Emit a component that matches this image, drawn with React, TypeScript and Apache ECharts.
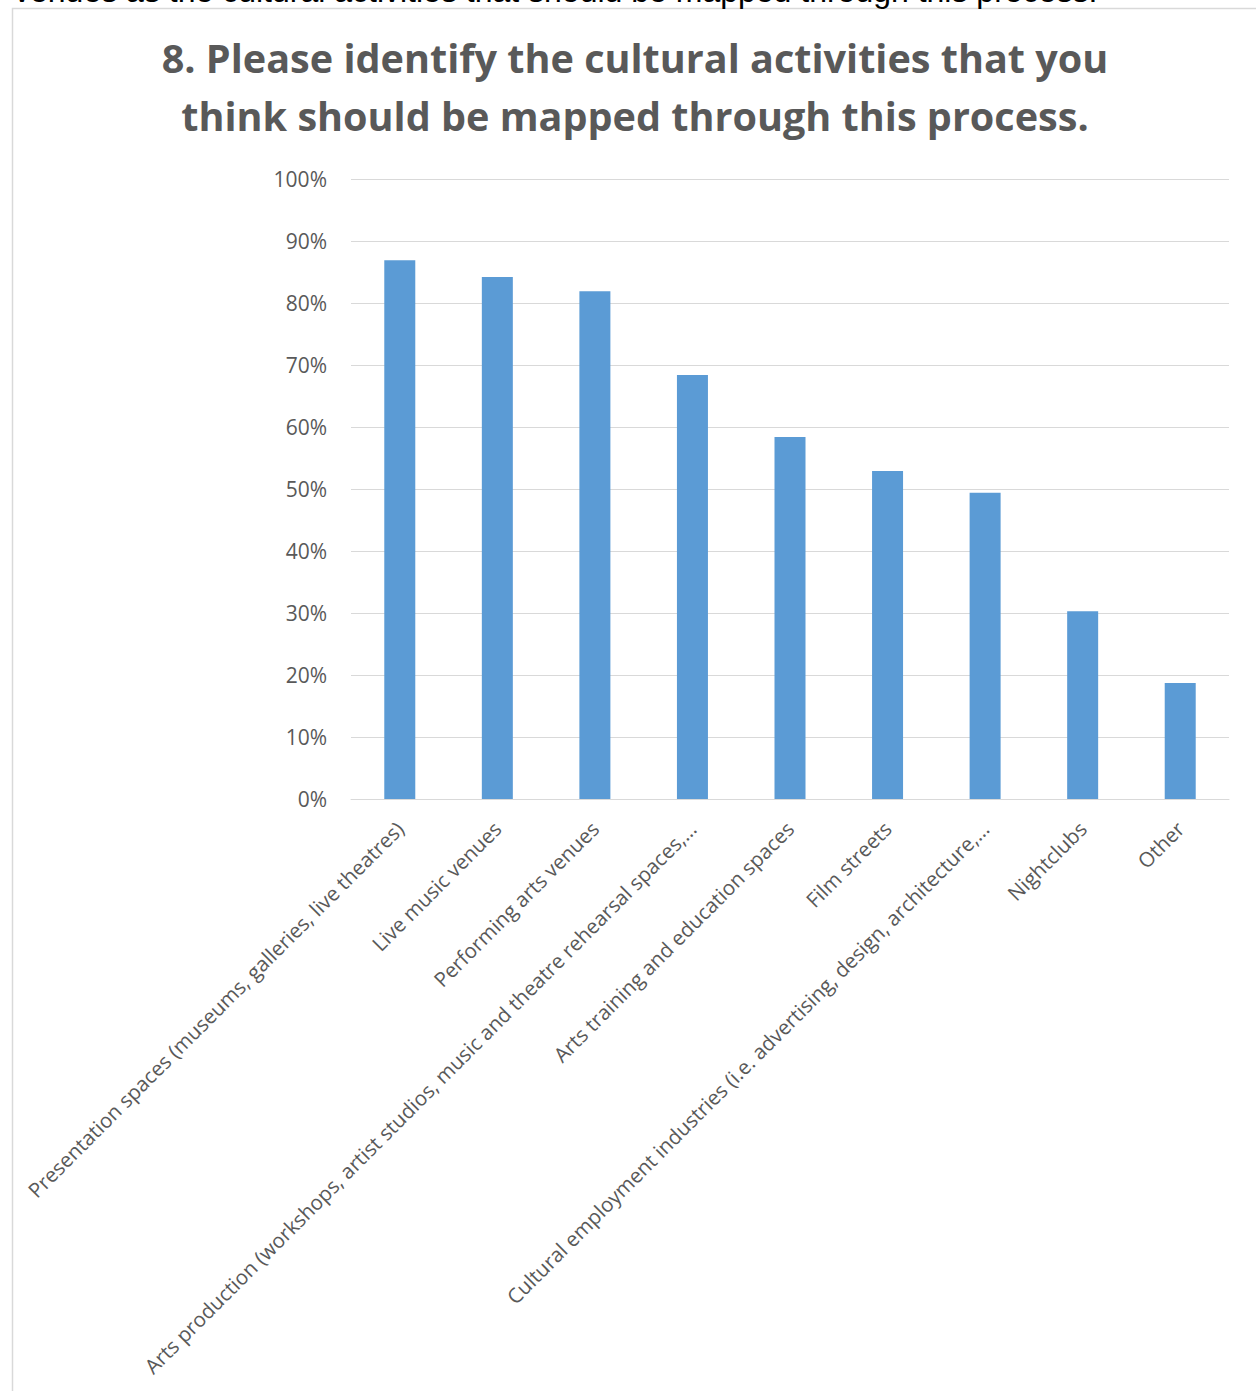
import React, { useEffect, useRef } from "react";
import * as echarts from "echarts";

const categories = [
  "Presentation spaces (museums, galleries, live theatres)",
  "Live music venues",
  "Performing arts venues",
  "Arts production (workshops, artist studios, music and theatre rehearsal spaces,…",
  "Arts training and education spaces",
  "Film streets",
  "Cultural employment industries (i.e. advertising, design, architecture,…",
  "Nightclubs",
  "Other",
];
const values = [86.9, 84.2, 81.9, 68.4, 58.4, 52.9, 49.4, 30.3, 18.7];
const titleText = "8. Please identify the cultural activities that you\nthink should be mapped through this process.";
const topText = "venues as the cultural activities that should be mapped through this process.";

export default function App() {
  const ref = useRef<HTMLDivElement>(null);
  useEffect(() => {
    if (!ref.current) return;
    const chart = echarts.init(ref.current, null, { renderer: "svg" });
    chart.setOption({
      animation: false,
      backgroundColor: "#ffffff",
      grid: { left: 351, right: 27, top: 179, bottom: 592, containLabel: false },
      xAxis: {
        type: "category",
        data: categories,
        axisLine: { lineStyle: { color: "#d9d9d9", width: 1 } },
        axisTick: { show: false },
        axisLabel: {
          rotate: 45,
          interval: 0,
          margin: 26,
          color: "#595959",
          fontFamily: "Open Sans",
          fontSize: 20.5,
        },
      },
      yAxis: {
        type: "value",
        min: 0,
        max: 100,
        interval: 10,
        axisLine: { show: false },
        axisTick: { show: false },
        splitLine: { lineStyle: { color: "#d9d9d9", width: 1 } },
        axisLabel: {
          formatter: "{value}%",
          margin: 24,
          color: "#595959",
          fontFamily: "Open Sans",
          fontSize: 21,
        },
      },
      series: [
        {
          type: "bar",
          data: values,
          barWidth: 31,
          itemStyle: { color: "#5b9bd5" },
        },
      ],
      graphic: [
        {
          type: "rect",
          shape: { x: 12.5, y: 8.5, width: 1400, height: 1500 },
          style: { fill: "none", stroke: "#d9d9d9", lineWidth: 1.5 },
          z: -1,
        },
        {
          type: "text",
          x: 14,
          y: 7,
          style: {
            text: topText,
            fontFamily: "Liberation Sans",
            fontSize: 32,
            fill: "#000000",
            textVerticalAlign: "bottom",
          },
        },
        {
          type: "text",
          x: 635,
          y: 87,
          style: {
            text: titleText,
            fontFamily: "Open Sans",
            fontWeight: "bold",
            fontSize: 39.6,
            lineHeight: 58,
            fill: "#595959",
            textAlign: "center",
            textVerticalAlign: "middle",
          },
        },
      ],
    });
    return () => chart.dispose();
  }, []);
  return (
    <div
      ref={ref}
      style={{ position: "absolute", left: 0, top: 0, width: 1256, height: 1391 }}
    />
  );
}
